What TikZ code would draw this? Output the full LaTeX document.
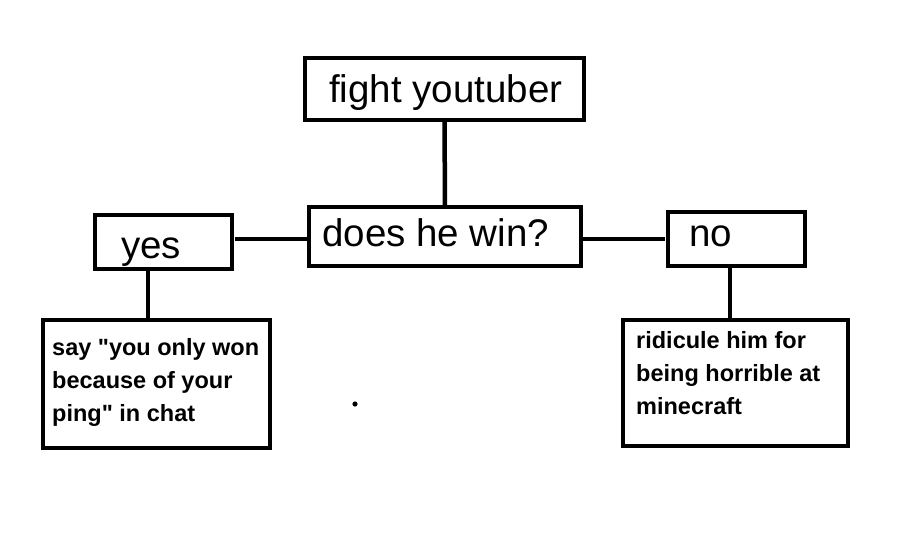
\documentclass[tikz,border=0pt]{standalone}
\usepackage{fontspec}
\setmainfont{Liberation Sans}
\newfontfamily\lsans{Liberation Sans}
\begin{document}
\begin{tikzpicture}[x=1pt,y=-1pt,
  box/.style={draw=black,line width=4pt,rectangle,inner sep=0pt,outer sep=0pt,fill=white},
  conn/.style={draw=black,line width=4.5pt},
  bigtxt/.style={anchor=base west,inner sep=0pt,font=\lsans\fontsize{38.5}{40}\selectfont},
  smalltxt/.style={anchor=north west,inner sep=0pt,align=left,font=\lsans\fontsize{23.5}{33}\selectfont\bfseries}]
\useasboundingbox[fill=white] (0,0) rectangle (917,544);
% boxes
\node[box,minimum width=279pt,minimum height=62pt] (fight) at (444.5,89) {};
\node[box,minimum width=272pt,minimum height=59pt] (does) at (445,236.5) {};
\node[box,minimum width=137pt,minimum height=54pt] (yes) at (163.5,242) {};
\node[box,minimum width=137pt,minimum height=54pt] (no) at (736.5,239) {};
\node[box,minimum width=227pt,minimum height=128pt] (left) at (156.5,384) {};
\node[box,minimum width=225pt,minimum height=126pt] (right) at (735.5,383) {};
% texts
\node[bigtxt] (tfight) at (329,102) {fight youtuber};
\node[bigtxt] (tdoes) at (322,246) {does he win?};
\node[bigtxt] (tyes) at (121,258) {yes};
\node[bigtxt] (tno) at (689,246) {no};
\node[smalltxt] (tleft) at (52,338) {say "you only won\\because of your\\ping" in chat};
\node[smalltxt] (tright) at (636,331) {ridicule him for\\being horrible at\\minecraft};
% connectors
\draw[conn] (fight.south) -- (does.north);
\draw[conn] ([xshift=3pt,yshift=3pt]yes.east) -- ([yshift=-2.5pt]does.west);
\draw[conn] ([yshift=-2.5pt]does.east) -- ([xshift=-3pt]no.west);
\draw[conn] ([xshift=-15.5pt]yes.south) -- ([xshift=-8.5pt]left.north);
\draw[conn] ([xshift=-6.5pt]no.south) -- ([xshift=-5.5pt]right.north);
% stray dot
\fill (355,404) circle (2.6pt);
\end{tikzpicture}
\end{document}
